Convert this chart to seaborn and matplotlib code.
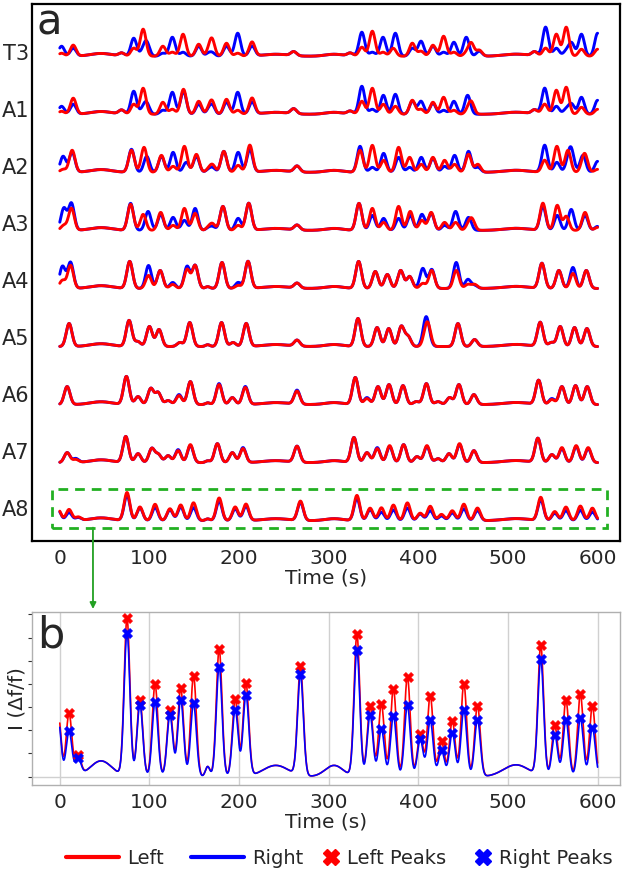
import numpy as np
import pandas as pd
import matplotlib
matplotlib.use("Agg")
import matplotlib.pyplot as plt
import seaborn as sns
from matplotlib.lines import Line2D
from matplotlib.patches import Rectangle

# ---------------- data (peak times in s, peak heights for Left / Right) ----------------
rows = ["T3", "A1", "A2", "A3", "A4", "A5", "A6", "A7", "A8"]

T3_t = [2, 15, 69, 82.5, 93, 97, 115, 125.6, 137.5, 155, 169.5, 186, 198.5, 214.5, 261,
        324, 337, 348.7, 360.6, 372, 374.4, 393.3, 403, 416.3, 428.2, 439.7, 453.5, 459, 468,
        529.7, 542, 554, 565, 571, 582, 600]
T3_left = [3, 11, 3, 8, 27, 0, 10, 4, 22, 12, 18, 13, 3, 14, 4,
           3, 9, 25, 4, 8, 0, 13, 5, 11, 20, 4, 3, 13, 6,
           4, 8, 22, 29, 0, 7, 7]
T3_right = [10, 8, 3, 18, 5, 13, 3, 19, 4, 10, 4, 10, 23, 10, 4,
            3, 24, 4, 19, 0, 23, 8, 15, 10, 4, 14, 19, 0, 5,
            4, 29, 8, 5, 13, 22, 23]

A1_t = [2, 15, 69, 82.5, 93, 97, 115, 125.6, 138, 155, 169.5, 186, 198.5, 214.5, 261,
        324, 337, 348.7, 361, 374.4, 393.3, 403, 416.3, 428.2, 439.7, 455, 459,
        529.7, 541, 554, 565, 571, 582, 600]
A1_left = [3, 16, 4, 10, 26, 0, 12, 5, 25, 13, 14, 15, 4, 16, 5,
           3, 13, 26, 10, 8, 14, 5, 12, 17, 4, 3, 12,
           4, 10, 24, 27, 0, 7, 5]
A1_right = [8, 10, 4, 23, 5, 10, 4, 22, 23, 10, 10, 12, 22, 12, 5,
            3, 28, 5, 19, 20, 13, 13, 11, 4, 13, 19, 0,
            4, 26, 8, 5, 10, 17, 14]

A2_t = [3.7, 13.8, 80, 94, 97, 113.4, 126.4, 139, 141, 152.4, 170, 183, 199, 212, 264.7,
        335, 348.7, 361.3, 378, 390.3, 403.3, 416.3, 429.3, 440.5, 456, 466.4,
        541, 554.6, 566.9, 570.6, 583.6, 586, 600]
A2_left = [3, 22, 22, 25, 0, 17, 6, 26, 0, 18, 8, 21, 7, 27, 6,
           22, 27, 12, 25, 15, 8, 15, 12, 8, 18, 8,
           12, 26, 22, 0, 5, 15, 3]
A2_right = [16, 20, 23, 0, 16, 16, 20, 0, 10, 16, 5, 21, 20, 23, 6,
            26, 5, 19, 15, 5, 15, 14, 6, 17, 21, 5,
            27, 10, 8, 21, 17, 0, 11]

A3_t = [4.5, 13, 79, 93, 98.5, 112.6, 126.4, 139, 151, 170, 182, 199, 210.8, 264.7,
        333.8, 348.7, 361.3, 378, 391, 404, 414.4, 429.3, 441.6, 456, 460,
        539, 555, 565, 570.6, 586, 600]
A3_left = [5, 22, 26, 16, 0, 18, 5, 22, 17, 7, 24, 5, 27, 5,
           27, 22, 8, 24, 19, 10, 18, 8, 8, 5, 10,
           27, 25, 14, 0, 18, 3]
A3_right = [22, 27, 27, 0, 19, 16, 13, 10, 22, 4, 24, 12, 27, 5,
            27, 15, 12, 12, 15, 16, 17, 5, 19, 13, 0,
            24, 15, 0, 21, 15, 4]

A4_t = [3, 12, 78, 99, 112, 126, 142, 151, 181, 199, 210, 264.7,
        333.4, 352, 365.4, 380.3, 390.3, 405, 415, 442.3, 455.3, 462.8,
        537.9, 556.8, 572.5, 587.4]
A4_left = [8, 23, 27, 13, 18, 4, 19, 23, 26, 3, 27, 5,
           27, 17, 14, 18, 12, 5, 18, 18, 4, 4,
           25, 18, 15, 18]
A4_right = [22, 26, 27, 23, 18, 6, 22, 23, 26, 6, 27, 5,
            27, 17, 14, 18, 12, 20, 19, 26, 9, 3,
            25, 18, 21, 18]

A5_t = [10.4, 77.3, 87, 100, 110.7, 134, 145, 180.5, 193.3, 208, 264.7,
        332.7, 354, 367, 381, 388.5, 408.2, 411, 444.2, 462.8,
        536, 548.4, 558.3, 574.3, 588.1]
A5_left = [23, 26, 5, 20, 17, 4, 24, 24, 4, 23, 6,
           28, 19, 18, 20, 10, 10, 17, 23, 7,
           24, 4, 20, 19, 18]
A5_right = [23, 26, 5, 20, 17, 4, 24, 24, 4, 23, 6,
            28, 19, 18, 20, 10, 24, 8, 23, 7,
            24, 4, 20, 19, 18]

A6_t = [8.2, 74.3, 87.3, 101.5, 109.7, 120.8, 133, 145.7, 177.7, 192.5, 207, 264.7,
        329.7, 342.7, 355, 367.3, 382.9, 397.7, 409, 421.9, 434.9, 445.3, 462,
        534.2, 549, 560.2, 575.4, 588.4]
A6_left = [18, 28, 8, 16, 12, 4, 9, 23, 20, 7, 17, 13,
           27, 6, 18, 20, 19, 3, 21, 3, 7, 20, 10,
           24, 5, 18, 19, 18]
A6_right = [18, 28, 8, 16, 12, 4, 10, 23, 21, 7, 18, 14,
            27, 7, 18, 20, 19, 3, 21, 3, 7, 20, 10,
            24, 6, 18, 19, 18]

A7_t = [8.2, 17.8, 73.6, 87.3, 102.6, 110, 120.8, 132, 145.7, 175.8, 192.5, 204.4, 264.7,
        328.2, 342.7, 354.2, 368, 383.6, 398.5, 409.6, 421.9, 434.2, 446, 462,
        533.4, 549, 560.2, 576.1, 589.5]
A7_left = [10, 3, 26, 9, 14, 8, 7, 12, 18, 19, 10, 14, 16,
           25, 10, 14, 17, 18, 6, 17, 4, 9, 19, 12,
           24, 8, 15, 17, 15]
A7_right = [10, 4, 26, 9, 14, 8, 7, 13, 17, 19, 10, 15, 16,
            25, 10, 15, 16, 18, 6, 16, 4, 9, 18, 12,
            24, 8, 14, 16, 14]

A8_t = [-2, 10.3, 20.5, 75, 89.4, 106.3, 122.9, 134.9, 149.2, 177.8, 195.7, 207.7, 268.5,
        331.5, 346.2, 358.8, 372.2, 387.8, 402.1, 413.3, 425.8, 437.9, 450.8, 466,
        536.6, 552.2, 564.7, 580.8, 594.2]
A8_left = [11.5, 11.2, 3.5, 28, 13.7, 16.4, 11.9, 15.7, 17.9, 22.7, 13.7, 16.5, 19.3,
           25.2, 12.5, 12.9, 15.6, 17.8, 7.5, 14.4, 6.3, 9.9, 16.5, 12.6,
           23.1, 9.1, 13.6, 14.6, 12.5]
A8_right = [10.6, 8.1, 2.9, 25.5, 12.8, 13.3, 10.9, 13.7, 13.0, 19.6, 11.9, 14.4, 17.9,
            22.4, 11.0, 8.5, 10.8, 12.7, 6.6, 10.0, 4.7, 7.8, 11.9, 10.1,
            20.6, 7.4, 10.1, 10.4, 8.7]

# small non-peak bumps (baseline drift) common to all segments
hump_t = [46, 165, 241, 306, 509]
hump_a = [2.8, 1.8, 2.0, 2.0, 2.1]
hump_w = [12, 2.5, 14, 10, 14]

PEAK_SIGMA = 3.2
ROW_SCALE = 58.0      # panel-a row spacing in the same units as peak heights
B_SCALE = 41.2        # A8 units -> Δf/f for panel b

peak_t = dict(T3=T3_t, A1=A1_t, A2=A2_t, A3=A3_t, A4=A4_t, A5=A5_t, A6=A6_t, A7=A7_t, A8=A8_t)
peak_l = dict(T3=T3_left, A1=A1_left, A2=A2_left, A3=A3_left, A4=A4_left, A5=A5_left,
              A6=A6_left, A7=A7_left, A8=A8_left)
peak_r = dict(T3=T3_right, A1=A1_right, A2=A2_right, A3=A3_right, A4=A4_right, A5=A5_right,
              A6=A6_right, A7=A7_right, A8=A8_right)

grid = np.linspace(0, 600, 1501)


def trace(times, amps):
    t = np.asarray(times, float)[:, None]
    a = np.asarray(amps, float)[:, None]
    y = (a * np.exp(-(grid[None, :] - t) ** 2 / (2 * PEAK_SIGMA ** 2))).sum(0)
    ht = np.asarray(hump_t, float)[:, None]
    ha = np.asarray(hump_a, float)[:, None]
    hw = np.asarray(hump_w, float)[:, None]
    y += (ha * np.exp(-(grid[None, :] - ht) ** 2 / (2 * hw ** 2))).sum(0)
    return y


records = []
for k, r in enumerate(rows):
    off = len(rows) - 1 - k
    for side, amps in (("Left", peak_l[r]), ("Right", peak_r[r])):
        y = trace(peak_t[r], amps)
        records.append(pd.DataFrame({"time": grid, "value": off + y / ROW_SCALE,
                                     "raw": y, "side": side, "row": r}))
df = pd.concat(records, ignore_index=True)

# ---------------- figure ----------------
sns.set_style("white")
plt.rcParams["font.family"] = ["DejaVu Sans"]
W, H = 624, 874
fig = plt.figure(figsize=(W / 100, H / 100), dpi=100)

ax_a = fig.add_axes([32 / W, 1 - 541 / H, 588 / W, 537 / H])
ax_b = fig.add_axes([32 / W, 1 - 785 / H, 588 / W, 173 / H])

pal = {"Left": "#ff0000", "Right": "#0000ff"}

# panel a
sns.lineplot(data=df, x="time", y="value", hue="side", units="row", estimator=None,
             hue_order=["Right", "Left"], palette=pal, lw=2.1, legend=False, ax=ax_a,
             sort=False)
ax_a.set_xlim(-31, 625)
ax_a.set_ylim(-0.35, 8.9)
ax_a.set_xticks(range(0, 601, 100))
ax_a.set_yticks([0.22 + (len(rows) - 1 - k) * 0.981 for k in range(len(rows))])
ax_a.set_yticklabels(rows)
ax_a.tick_params(axis="y", length=0, labelsize=15, pad=2)
ax_a.tick_params(axis="x", length=0, labelsize=14.5, pad=6)
ax_a.set_xlabel("Time (s)", fontsize=14.5, labelpad=0)
ax_a.set_ylabel("")
for s in ax_a.spines.values():
    s.set_color("black")
    s.set_linewidth(1.6)
ax_a.text(0.008, 1.005, "a", transform=ax_a.transAxes, fontsize=30, va="top", ha="left")

ax_a.add_patch(Rectangle((-9, -0.12), 619, 0.66, fill=False, ec="#22b022", lw=2.0,
                         ls=(0, (3.5, 2.5)), zorder=5))
ax_a.annotate("", xy=(93 / W, 1 - 609 / H), xycoords="figure fraction",
              xytext=(37, -0.12), textcoords="data",
              arrowprops=dict(arrowstyle="-|>", color="#22a022", lw=1.3,
                              mutation_scale=9, shrinkA=0, shrinkB=0),
              annotation_clip=False)

# panel b
dfb = df[df["row"] == "A8"].copy()
dfb["dff"] = dfb["raw"] / B_SCALE
sns.lineplot(data=dfb, x="time", y="dff", hue="side", hue_order=["Left", "Right"],
             palette=pal, lw=1.2, legend=False, ax=ax_b, estimator=None, sort=False)

for side, col in (("Left", "#ff0000"), ("Right", "#0000ff")):
    sub = dfb[dfb["side"] == side]
    yv = sub["dff"].to_numpy()
    px, py = [], []
    for tp in A8_t:
        if tp < 0:
            continue
        m = (grid >= tp - 3) & (grid <= tp + 3)
        i = np.argmax(np.where(m, yv, -np.inf))
        px.append(grid[i])
        py.append(yv[i])
    sns.scatterplot(x=px, y=py, marker="X", color=col, s=55, edgecolor=col,
                    linewidth=0.3, ax=ax_b, zorder=5, legend=False)

ax_b.set_xlim(-31, 625)
ax_b.set_ylim(-0.036, 0.71)
ax_b.set_xticks(range(0, 601, 100))
ax_b.set_yticks(np.arange(0, 0.71, 0.1))
ax_b.set_yticklabels([])
ax_b.grid(axis="x", color="#d0d0d0", lw=1.0)
ax_b.axhline(0, color="#d0d0d0", lw=1.0, zorder=0)
ax_b.tick_params(axis="y", length=3, width=0.8, color="#333333", left=True)
ax_b.tick_params(axis="x", length=0, labelsize=14.5, pad=6)
for s in ax_b.spines.values():
    s.set_color("#b0b0b0")
    s.set_linewidth(1.0)
ax_b.set_xlabel("Time (s)", fontsize=14.5, labelpad=0)
ax_b.set_ylabel("I (Δf/f)", fontsize=14.5)
ax_b.yaxis.set_label_coords(-0.009, 0.5)
ax_b.text(0.008, 0.985, "b", transform=ax_b.transAxes, fontsize=31, va="top", ha="left")

line_handles = [Line2D([], [], color="#ff0000", lw=3),
                Line2D([], [], color="#0000ff", lw=3)]
mark_handles = [Line2D([], [], color="#ff0000", marker="X", ls="none", markersize=12),
                Line2D([], [], color="#0000ff", marker="X", ls="none", markersize=12)]
leg1 = fig.legend(line_handles, ["Left", "Right"], loc="center",
                  bbox_to_anchor=(185 / W, 1 - 858 / H), ncol=2, frameon=False,
                  fontsize=14, handlelength=2.7, handletextpad=0.45, columnspacing=1.4,
                  borderpad=0, borderaxespad=0)
leg2 = fig.legend(mark_handles, ["Left Peaks", "Right Peaks"], loc="center",
                  bbox_to_anchor=(468 / W, 1 - 858 / H), ncol=2, frameon=False,
                  fontsize=14, handlelength=0.8, handletextpad=0.4, columnspacing=1.5,
                  borderpad=0, borderaxespad=0)

fig.savefig("out.png", dpi=100)
